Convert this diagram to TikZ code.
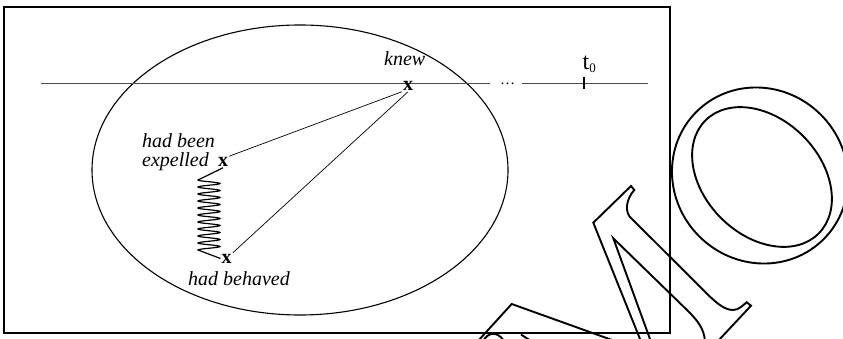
\documentclass[tikz,border=0pt]{standalone}
\usepackage{fontspec}
\setmainfont{Liberation Serif}
\begin{document}
\begin{tikzpicture}[x=1pt,y=-1pt,
  lbl/.style={font=\fontsize{20}{24}\selectfont\itshape, inner sep=0pt},
  xmark/.style={font=\fontsize{20}{24}\selectfont\bfseries, inner sep=1pt},
  conn/.style={line width=0.7pt},
  tline/.style={line width=0.7pt, black!70},
  tickmark/.style={line width=1.4pt},
  squig/.style={line width=1.2pt},
  framebox/.style={line width=1.6pt},
  oval/.style={line width=1.1pt},
  wmark/.style={line width=1.9pt, line join=miter},
  dotsnode/.style={font=\fontsize{15}{18}\selectfont, inner sep=0pt, anchor=base}
]
\useasboundingbox (0,0) rectangle (843,339);
\clip (0,0) rectangle (843,339);

% frame and ellipse
\draw[framebox] (4,7) rectangle (670,333);
\draw[oval] (300,170) ellipse [x radius=208pt, y radius=145pt];

% timeline
\coordinate (tlA) at (41,83);
\coordinate (tlB) at (490,83);
\coordinate (tlC) at (522,83);
\coordinate (tlD) at (648,83);
\coordinate (tkT) at (584,77.5);
\coordinate (tkB) at (584,89);
\draw[tline] (tlA) -- (tlB);
\draw[tline] (tlC) -- (tlD);
\draw[tickmark] (tkT) -- (tkB);
\node[dotsnode] (dd) at (507.5,84.5) {…};
\node[anchor=base west, inner sep=0pt] (t0) at (582.5,69.5)
  {\fontsize{24}{24}\selectfont t\raisebox{-3pt}{\fontsize{13}{13}\selectfont 0}};

% labels and marks
\node[lbl, anchor=base west] (knew) at (384,66) {knew};
\node[xmark] (kx) at (408,86) {x};
\node[lbl, anchor=base west] (hb) at (142,148) {had been};
\node[lbl, anchor=base west] (ep) at (142,166.5) {expelled};
\node[xmark] (ex) at (223,162) {x};
\node[xmark] (bx) at (226.7,258.5) {x};
\node[lbl, anchor=base] (hbv) at (239,285) {had behaved};

% connectors
\draw[conn] (ex.north east) -- (kx.south west);
\draw[conn] (bx.north east) -- (kx.south);
\draw[squig] (ex.south) -- plot[domain=0:70, samples=201] ({209-11*cos(51.42857*\x)},{180+\x}) -- (bx.west);

% watermark letters
\draw[wmark] (640.8,341) -- (593.3,222.7) -- (631,186) -- (634.3,190)
  .. controls (626,199) and (624,213) .. (632,219) -- (703.3,290)
  .. controls (715,302) and (724,310) .. (733,310)
  .. controls (739,310) and (743,305) .. (746.7,302.3) -- (751,305.7) -- (718,341);
\draw[wmark] (650.7,341) -- (613.3,238.3) -- (688,311)
  .. controls (698,321) and (704,329) .. (705,341);
\draw[wmark] (478,341) -- (511.7,304) -- (614.8,341);
\draw[wmark] (483.3,341) .. controls (487,333) and (497,330) .. (504,341);
\draw[wmark] (521,334.5) -- (531,341);
\draw[wmark, rotate around={-45:(760,175.5)}] (760,175.5) ellipse [x radius=90pt, y radius=86pt];
\draw[wmark, rotate around={-45:(762,177)}] (762,177) ellipse [x radius=80pt, y radius=58pt];
\end{tikzpicture}
\end{document}
